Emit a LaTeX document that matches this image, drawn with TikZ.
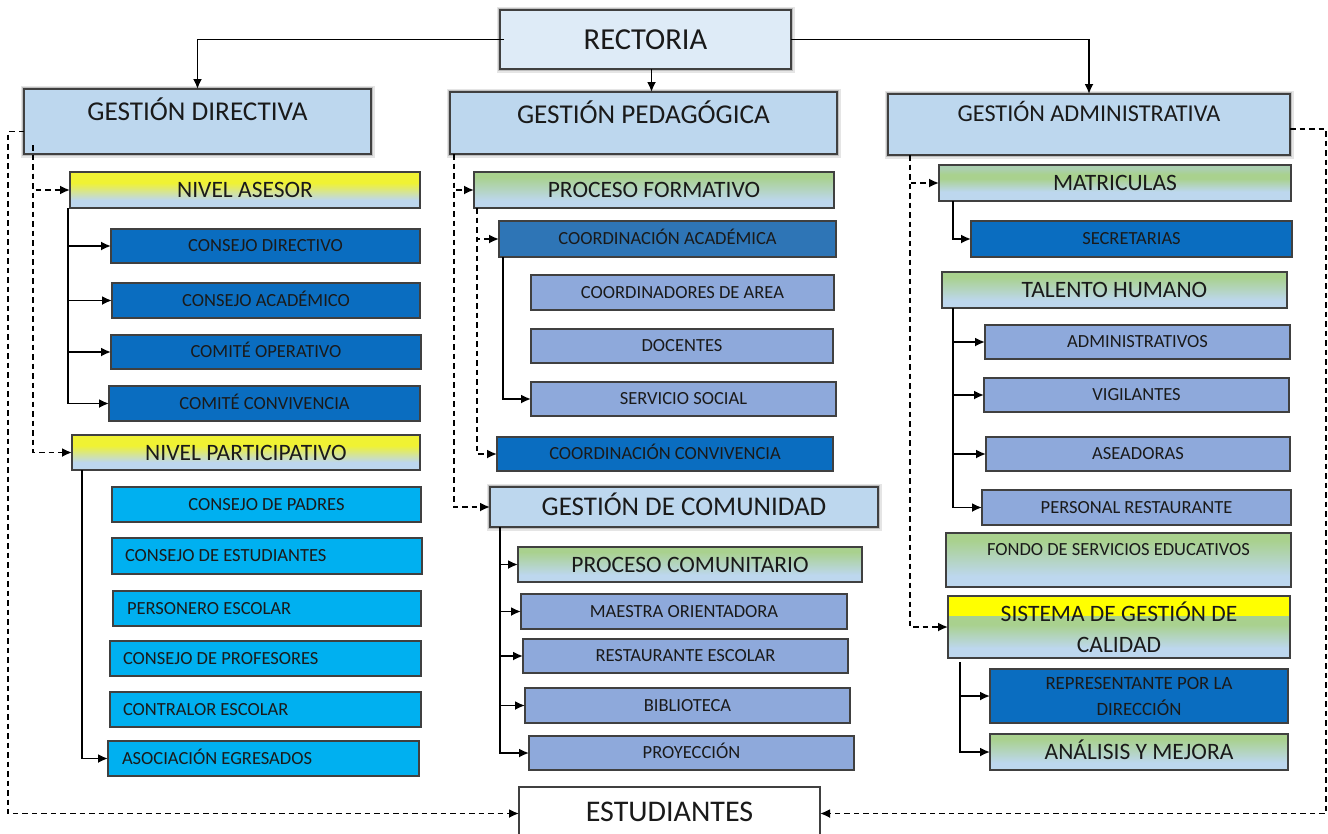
\documentclass[tikz,border=0pt]{standalone}
\usepackage{fontspec}
\setmainfont{Carlito}
\usetikzlibrary{arrows.meta,calc}
\definecolor{lb}{HTML}{BDD7EE}
\definecolor{rc}{HTML}{DEEBF7}
\definecolor{dk}{HTML}{0A6DC0}
\definecolor{cab}{HTML}{2E75B6}
\definecolor{cy}{HTML}{00B0F0}
\definecolor{mb}{HTML}{8EA9DB}
\definecolor{gr}{HTML}{A9D18E}
\definecolor{ye}{HTML}{F0F233}
\definecolor{yy}{HTML}{FFFF00}
\definecolor{bd}{HTML}{404040}
\definecolor{tx}{HTML}{1A1A1A}
\definecolor{gg}{HTML}{ABCFB0}
\pgfdeclareverticalshading{yb}{100bp}{color(0bp)=(lb); color(25bp)=(lb); color(36bp)=(lb); color(60bp)=(ye); color(75bp)=(ye); color(100bp)=(ye)}
\pgfdeclareverticalshading{gb}{100bp}{color(0bp)=(lb); color(25bp)=(lb); color(35bp)=(lb); color(68bp)=(gr); color(75bp)=(gr); color(100bp)=(gr)}
\pgfdeclareverticalshading{mg}{100bp}{color(0bp)=(lb); color(25bp)=(lb); color(38bp)=(lb); color(56bp)=(gr); color(62bp)=(gr); color(70bp)=(gg); color(100bp)=(gg)}
\pgfdeclareverticalshading{sg}{100bp}{color(0bp)=(lb); color(25bp)=(lb); color(33bp)=(lb); color(52bp)=(gr); color(59bp)=(gr); color(59.5bp)=(yy); color(100bp)=(yy)}
\tikzset{
  box/.style={draw=bd, line width=1.6pt, inner sep=0pt, outer sep=0pt, text=tx},
  sm/.style={box, font=\fontsize{18.5}{22}\selectfont, text height=11.5pt, text depth=0pt},
  md/.style={box, font=\fontsize{23.5}{28}\selectfont, text height=15pt, text depth=0pt},
  glow/.style={preaction={draw=black!10, line width=7pt}, preaction={draw=black!25, line width=3.5pt}},
  big/.style={box, fill=lb, glow, line width=1.8pt},
  lft/.style={inner xsep=13pt},
  conn/.style={draw=black, line width=1.8pt, -{Latex[length=10pt,width=9pt]}},
  dconn/.style={conn, dash pattern=on 5.5pt off 4pt},
}
\newcommand\mybox[7]{%
  \pgfmathsetmacro\bw{#4-#2}\pgfmathsetmacro\bh{#5-#3}%
  \node[minimum width=\bw pt, minimum height=\bh pt, #6] (#1) at ({(#2+#4)/2},{(#3+#5)/2}) {#7};}
\begin{document}
\begin{tikzpicture}[x=1pt,y=-1pt]
\useasboundingbox (0,0) rectangle (1328,833);
\clip (0,0) rectangle (1328,833);
% top level
\mybox{rect}{500}{10}{791}{69}{box, fill=rc, glow, line width=1.8pt, font=\fontsize{30.5}{34}\selectfont, text height=19.5pt, text depth=0pt}{RECTORIA}
\mybox{gd}{24}{89}{371}{154}{big, font=\fontsize{27.2}{30}\selectfont, text height=17pt, text depth=19pt}{GESTIÓN DIRECTIVA}
\mybox{gp}{450}{92}{837}{154}{big, font=\fontsize{27.2}{30}\selectfont, text height=17pt, text depth=16pt}{GESTIÓN PEDAGÓGICA}
\mybox{ga}{888}{94}{1290}{155}{big, font=\fontsize{24.2}{30}\selectfont, text height=15.5pt, text depth=21pt}{GESTIÓN ADMINISTRATIVA}
% left column
\mybox{na}{70}{172}{420}{208}{md, shading=yb}{NIVEL ASESOR}
\mybox{cd}{111}{229}{420}{263}{sm, fill=dk}{CONSEJO DIRECTIVO}
\mybox{cac}{112}{283}{420}{318}{sm, fill=dk}{CONSEJO ACADÉMICO}
\mybox{co}{111}{335}{421}{369}{sm, fill=dk}{COMITÉ OPERATIVO}
\mybox{cco}{109}{386}{420}{421}{sm, fill=dk}{COMITÉ CONVIVENCIA}
\mybox{np}{72}{435}{420}{470}{md, shading=yb}{NIVEL PARTICIPATIVO}
\mybox{cp}{112}{487}{421}{522}{sm, fill=cy}{CONSEJO DE PADRES}
\mybox{ce}{112}{538}{422}{574}{sm, fill=cy, lft}{\makebox[284pt][l]{CONSEJO DE ESTUDIANTES}}
\mybox{pe}{113}{591}{421}{626}{sm, fill=cy, lft, inner xsep=14pt}{\makebox[280pt][l]{PERSONERO ESCOLAR}}
\mybox{cpr}{110}{641}{421}{676}{sm, fill=cy, lft}{\makebox[285pt][l]{CONSEJO DE PROFESORES}}
\mybox{cte}{110}{692}{421}{727}{sm, fill=cy, lft}{\makebox[285pt][l]{CONTRALOR ESCOLAR}}
\mybox{ae}{108}{741}{419}{776}{sm, fill=cy, lft, inner xsep=14pt}{\makebox[283pt][l]{ASOCIACIÓN EGRESADOS}}
% middle column
\mybox{pf}{474}{172}{834}{208}{md, shading=gb}{PROCESO FORMATIVO}
\mybox{cad}{499}{221}{836}{257}{sm, fill=cab}{COORDINACIÓN ACADÉMICA}
\mybox{cda}{531}{275}{834}{310}{sm, fill=mb}{COORDINADORES DE AREA}
\mybox{doc}{531}{329}{833}{363}{sm, fill=mb}{DOCENTES}
\mybox{ss}{531}{382}{836}{416}{sm, fill=mb}{SERVICIO SOCIAL}
\mybox{ccv}{497}{437}{833}{471}{sm, fill=dk}{COORDINACIÓN CONVIVENCIA}
\mybox{gc}{490}{487}{878}{527}{big, font=\fontsize{27}{30}\selectfont, text height=17pt, text depth=0pt}{GESTIÓN DE COMUNIDAD}
\mybox{pc}{518}{547}{862}{582}{md, shading=gb}{PROCESO COMUNITARIO}
\mybox{mo}{521}{594}{847}{629}{sm, fill=mb}{MAESTRA ORIENTADORA}
\mybox{re}{523}{639}{848}{673}{sm, fill=mb}{RESTAURANTE ESCOLAR}
\mybox{bi}{525}{688}{850}{723}{sm, fill=mb}{BIBLIOTECA}
\mybox{pr}{529}{736}{854}{770}{sm, fill=mb}{PROYECCIÓN}
% right column
\mybox{mat}{939}{165}{1291}{201}{md, shading=mg}{MATRICULAS}
\mybox{sec}{971}{221}{1292}{257}{sm, fill=dk}{SECRETARIAS}
\mybox{th}{942}{272}{1287}{308}{md, shading=gb}{TALENTO HUMANO}
\mybox{adm}{985}{325}{1290}{359}{sm, fill=mb}{ADMINISTRATIVOS}
\mybox{vig}{984}{378}{1289}{412}{sm, fill=mb}{VIGILANTES}
\mybox{ase}{986}{437}{1290}{471}{sm, fill=mb}{ASEADORAS}
\mybox{per}{982}{490}{1291}{525}{sm, fill=mb}{PERSONAL RESTAURANTE}
\mybox{fon}{946}{533}{1291}{587}{sm, shading=gb, text depth=20pt}{FONDO DE SERVICIOS EDUCATIVOS}
\mybox{sgc}{948}{596}{1290}{658}{box, shading=sg, font=\fontsize{23.5}{31}\selectfont, align=center}{SISTEMA DE GESTIÓN DE\\CALIDAD}
\mybox{rep}{990}{669}{1288}{723}{box, fill=dk, font=\fontsize{18.8}{26}\selectfont, align=center}{REPRESENTANTE POR LA\\DIRECCIÓN}
\mybox{am}{990}{734}{1288}{770}{md, shading=gb}{ANÁLISIS Y MEJORA}
% bottom
\mybox{est}{519}{787}{820}{840}{box, fill=white, line width=1.8pt, font=\fontsize{30}{34}\selectfont, text height=19pt, text depth=4pt}{ESTUDIANTES}
% connectors from rectoria
\draw[conn] ([xshift=4pt]rect.west) -| (gd.north);
\draw[conn] (rect.east) -| (ga.north);
\coordinate (rs) at ($(rect.south)+(6,0)$);
\draw[conn] (rs) -- (rs |- gp.north);
% to estudiantes
\draw[dconn] ([yshift=-10pt]gd.west) -- ++(-16,0) |- (est.west);
\draw[dconn] ([yshift=-4.5pt]ga.east) -- ++(36,0) |- (est.east);
% gestion directiva
\coordinate (sgd) at ($(gd.south west)+(9,-9)$);
\draw[dconn] (sgd) |- (na.west);
\draw[dconn] (sgd) |- (np.west);
\coordinate (sna) at ($(na.south west)+(-2,0)$);
\foreach \t in {cd,cac,co,cco} \draw[conn] (sna) |- (\t.west);
\coordinate (snp) at ($(np.south west)+(10,0)$);
\draw[conn] (snp) |- (ae.west);
% gestion pedagogica
\coordinate (sgp) at ($(gp.south west)+(4,0)$);
\draw[dconn] (sgp) |- (pf.west);
\draw[dconn] (sgp) |- (gc.west);
\coordinate (spf) at ($(pf.south west)+(3,0)$);
\draw[dconn] (spf) |- (cad.west);
\draw[dconn] (spf) |- (ccv.west);
\coordinate (sca) at ($(cad.south west)+(4,0)$);
\draw[conn] (sca) |- (ss.west);
\coordinate (sgcm) at ($(gc.south west)+(10,0)$);
\foreach \t in {pc,mo,re,bi,pr} \draw[conn] (sgcm) |- (\t.west);
% gestion administrativa
\coordinate (sga) at ($(ga.south west)+(22,0)$);
\draw[dconn] (sga) |- (mat.west);
\draw[dconn] (sga) |- (sgc.west);
\coordinate (smat) at ($(mat.south west)+(14,0)$);
\draw[conn] (smat) |- (sec.west);
\coordinate (sth) at ($(th.south west)+(11,0)$);
\foreach \t in {adm,vig,ase,per} \draw[conn] (sth) |- (\t.west);
\coordinate (ssg) at ($(sgc.south west)+(12,4)$);
\draw[conn] (ssg) |- (rep.west);
\draw[conn] (ssg) |- (am.west);
\end{tikzpicture}
\end{document}
